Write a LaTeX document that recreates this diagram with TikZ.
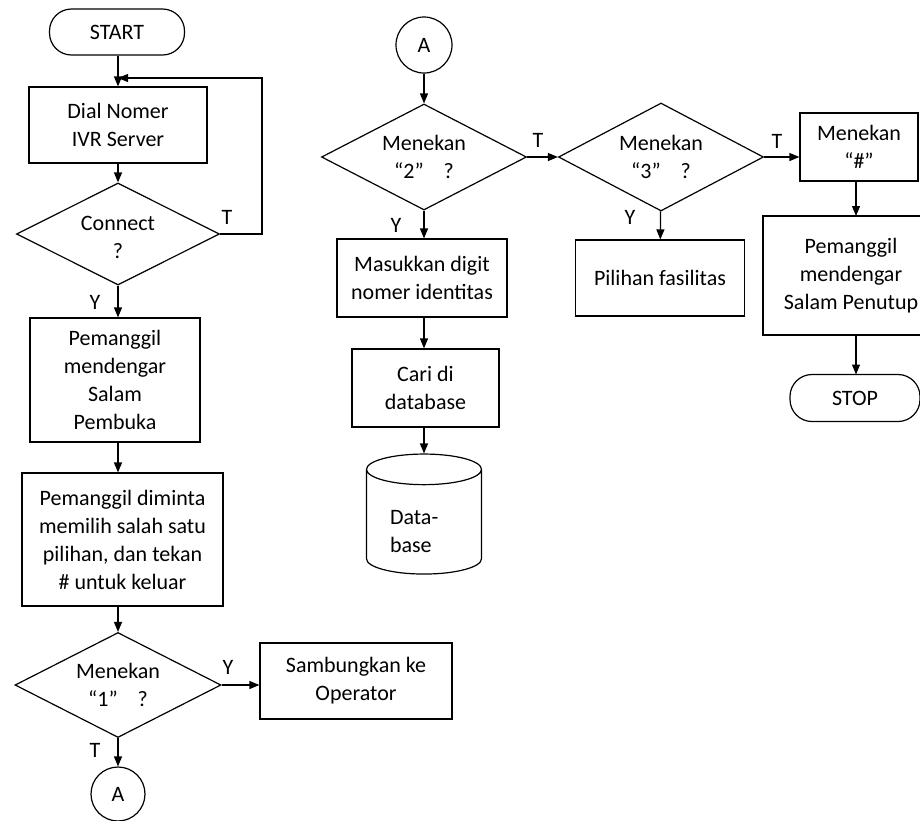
\documentclass[tikz,border=0pt]{standalone}
\usepackage{fontspec}
\setmainfont{Carlito}
\usetikzlibrary{shapes.geometric,arrows.meta}

\begin{document}
\begin{tikzpicture}
    [every node/.style={inner sep=0pt, font=\fontsize{22}{28}\selectfont},
     box/.style={rectangle, draw=black, line width=1.2pt, align=center},
     term/.style={rectangle, rounded corners=22pt, draw=black, line width=1.2pt, minimum height=46pt},
     choice/.style={diamond, draw=black, line width=1.2pt, align=center, minimum width=205pt, minimum height=105pt, aspect=1.95},
     conn/.style={circle, draw=black, line width=1.2pt, minimum size=56pt},
     store/.style={cylinder, shape border rotate=90, draw=black, line width=1.2pt, aspect=0.45, align=left, text width=68pt},
     flow/.style={line width=1.2pt, -{Triangle[length=10pt,width=8pt]}}]
        \clip (0pt, 0pt) rectangle (920pt, -820pt);
        % left column
        \node (1) [term, minimum width=135pt] at (117.0pt, -32.0pt) {START};
        \node (2) [box, minimum width=178pt, minimum height=76pt] at (118.0pt, -125.0pt) {Dial Nomer\\IVR Server};
        \node (3) [choice, minimum width=203pt, minimum height=102pt] at (118.0pt, -234.0pt) {\\[-6pt]Connect\\?};
        \node (4) [box, minimum width=170pt, minimum height=124pt] at (115.0pt, -380.0pt) {Pemanggil\\mendengar\\Salam\\Pembuka};
        \node (5) [box, minimum width=201pt, minimum height=133pt] at (122.5pt, -539.5pt) {Pemanggil diminta\\memilih salah satu\\pilihan, dan tekan\\\# untuk keluar};
        \node (6) [choice, minimum width=206pt] at (118.0pt, -685.0pt) {Menekan\\“1”\hspace{0.9em}?};
        \node (7) [box, minimum width=192pt, minimum height=76pt] at (356.0pt, -681.0pt) {Sambungkan ke\\Operator};
        \node (8) [conn, minimum size=54pt] at (118.0pt, -794.0pt) {A};
        % middle column
        \node (9) [conn] at (424.0pt, -45.0pt) {A};
        \node (10) [choice, minimum height=106pt] at (424.0pt, -157.0pt) {Menekan\\“2”\hspace{0.9em}?};
        \node (11) [box, minimum width=170pt, minimum height=78pt] at (422.0pt, -278.0pt) {Masukkan digit\\nomer identitas};
        \node (12) [box, minimum width=147pt, minimum height=78pt] at (425.5pt, -388.0pt) {Cari di\\database};
        \node (13) [store, minimum width=115pt, minimum height=120pt] at (424.0pt, -522.0pt) {\\[6pt]Data-\\base};
        % right column
        \node (14) [choice, minimum height=108pt] at (661.0pt, -157.0pt) {Menekan\\“3”\hspace{0.9em}?};
        \node (15) [box, minimum width=169pt, minimum height=76pt] at (660.0pt, -278.0pt) {Pilihan fasilitas};
        \node (16) [box, minimum width=118pt, minimum height=68pt] at (859.0pt, -147.0pt) {Menekan\\“\#”};
        \node (17) [box, minimum width=176pt, minimum height=119pt] at (851.0pt, -275.5pt) {Pemanggil\\mendengar\\Salam Penutup};
        \node (18) [term, minimum width=130pt, minimum height=47pt] at (855.0pt, -398.0pt) {STOP};
        % Y / T
        \node (l1) at (227.0pt, -217.0pt) {T};
        \node (l2) at (95.0pt, -302.0pt) {Y};
        \node (l3) at (228.0pt, -667.0pt) {Y};
        \node (l4) at (95.0pt, -750.0pt) {T};
        \node (l5) at (538.0pt, -140.0pt) {T};
        \node (l6) at (396.0pt, -225.0pt) {Y};
        \node (l7) at (777.0pt, -141.0pt) {T};
        \node (l8) at (630.0pt, -217.0pt) {Y};
        \coordinate (j) at (118.0pt, -78.0pt);
        \coordinate (k) at (262.0pt, -78.0pt);
        \draw [flow] (1.south -| 2.north) to (2.north);
        \draw [flow] (3.east) -| (k) -- (j);
        \draw [flow] (2) to (3);
        \draw [flow] (3.south) to (3.south |- 4.north);
        \draw [flow] (3.south |- 4.south) to (3.south |- 5.north);
        \draw [flow] (3.south |- 5.south) to (6.north);
        \draw [flow] (6.east) to (6.east -| 7.west);
        \draw [flow] (6) to (8);
        \draw [flow] (9) to (10);
        \draw [flow] (10.east) to (14.west);
        \draw [flow] (10.south) to (10.south |- 11.north);
        \draw [flow] (10.south |- 11.south) to (10.south |- 12.north);
        \draw [flow] (10.south |- 12.south) to (10.south |- 13.north);
        \draw [flow] (14.east) to (14.east -| 16.west);
        \draw [flow] (14) to (15);
        \draw [flow] (856.0pt, -181.0pt) to (856.0pt, -216.0pt);
        \draw [flow] (856.0pt, -335.0pt) to (856.0pt, -374.5pt);
    \end{tikzpicture}
\end{document}
